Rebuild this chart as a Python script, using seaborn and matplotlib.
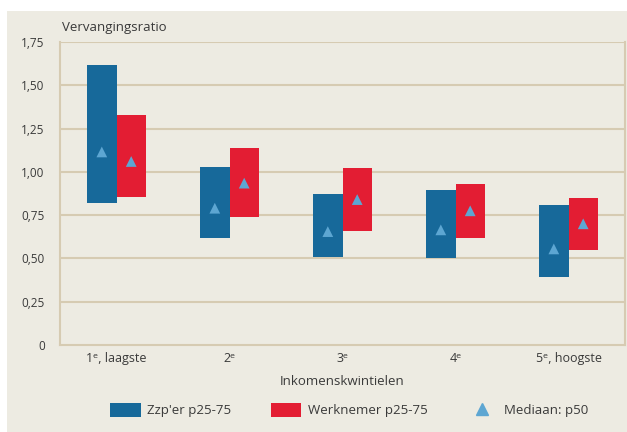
import matplotlib
matplotlib.use("Agg")
import matplotlib.pyplot as plt
import matplotlib.patches as mpatches
from matplotlib.lines import Line2D
import seaborn as sns
import pandas as pd
import numpy as np

categories = ["1ᵉ, laagste", "2ᵉ", "3ᵉ", "4ᵉ", "5ᵉ, hoogste"]
series = ["Zzp'er p25-75", "Werknemer p25-75"]
zzp_p25 = [0.82, 0.62, 0.51, 0.50, 0.39]
zzp_p75 = [1.62, 1.03, 0.87, 0.895, 0.81]
zzp_p50 = [1.115, 0.79, 0.655, 0.665, 0.555]
wn_p25 = [0.855, 0.74, 0.66, 0.62, 0.55]
wn_p75 = [1.33, 1.14, 1.02, 0.93, 0.85]
wn_p50 = [1.06, 0.935, 0.84, 0.775, 0.70]
yticks = [0, 0.25, 0.5, 0.75, 1.0, 1.25, 1.5, 1.75]
ytick_labels = ["0", "0,25", "0,50", "0,75", "1,00", "1,25", "1,50", "1,75"]

BLUE = "#17699A"
RED = "#E31D33"
TRI = "#5DA6D2"
BG = "#EDEBE2"
GRID = "#D6CBB2"
TXT = "#3A3A3A"

df = pd.DataFrame({
    "cat": categories * 2,
    "series": [series[0]] * 5 + [series[1]] * 5,
    "p25": zzp_p25 + wn_p25,
    "p75": zzp_p75 + wn_p75,
    "p50": zzp_p50 + wn_p50,
})
df["span"] = df["p75"] - df["p25"]

sns.set_style("white")
plt.rcParams["font.family"] = ["Open Sans", "DejaVu Sans"]

fig = plt.figure(figsize=(6.27, 4.32), dpi=100, facecolor="white")
fig.patches.append(mpatches.Rectangle((7 / 627, 0), 1, 1 - 11 / 432,
                                      transform=fig.transFigure,
                                      facecolor=BG, edgecolor="none", zorder=-10))
ax = fig.add_axes([60 / 627, 1 - 345 / 432, (625 - 60) / 627, (345 - 42) / 432])
ax.set_facecolor(BG)

sns.barplot(data=df, x="cat", y="span", hue="series", order=categories,
            hue_order=series, palette=[BLUE, RED], width=0.52, gap=0,
            errorbar=None, saturation=1, ax=ax, legend=False, zorder=3,
            linewidth=0)

# shift bars so that they span p25..p75
for cont, s in zip(ax.containers, series):
    sub = df[df["series"] == s].set_index("cat").loc[categories]
    for patch, (lo, hi) in zip(cont.patches, zip(sub["p25"], sub["p75"])):
        patch.set_y(lo)
        patch.set_height(hi - lo)

# medians at bar centres
for cont, s in zip(ax.containers, series):
    sub = df[df["series"] == s].set_index("cat").loc[categories]
    xs = [p.get_x() + p.get_width() / 2 for p in cont.patches]
    sns.scatterplot(x=xs, y=sub["p50"].values, marker="^", s=60, color=TRI,
                    edgecolor="none", ax=ax, zorder=4, legend=False)

ax.set_xlim(-0.5, len(categories) - 0.5)
ax.set_ylim(0, 1.75)
ax.set_yticks(yticks)
ax.set_yticklabels(ytick_labels)
for y in yticks[1:]:
    ax.axhline(y, color=GRID, lw=1.5, zorder=1)

ax.set_xticks(range(len(categories)))
ax.set_xticklabels(categories)
ax.set_xticks(np.arange(-0.5, len(categories), 1), minor=True)
ax.tick_params(axis="x", which="major", length=0, pad=5, labelsize=9, labelcolor=TXT)
ax.tick_params(axis="x", which="minor", length=5, width=1.3, color=GRID, direction="out")
ax.tick_params(axis="y", length=5, width=1.3, color=GRID, pad=6, labelsize=8.5, labelcolor=TXT)

for side in ["left", "bottom", "right"]:
    ax.spines[side].set_visible(True)
    ax.spines[side].set_color(GRID)
    ax.spines[side].set_linewidth(1.5)
ax.spines["top"].set_visible(False)

ax.set_xlabel("Inkomenskwintielen", fontsize=9.5, color=TXT, labelpad=7)
ax.set_ylabel("")
fig.text(62 / 627, 1 - 27 / 432, "Vervangingsratio", fontsize=9.5, color=TXT,
         ha="left", va="center")

handles = [
    mpatches.Patch(facecolor=BLUE, edgecolor="none", label=series[0]),
    mpatches.Patch(facecolor=RED, edgecolor="none", label=series[1]),
    Line2D([], [], marker="^", color=TRI, linestyle="none", markersize=8,
           label="Mediaan: p50"),
]
fig.legend(handles=handles, loc="center", bbox_to_anchor=(0.557, 1 - 410 / 432),
           ncol=3, frameon=False, fontsize=9.5, handlelength=2.3, handleheight=1.3,
           columnspacing=3.0, handletextpad=0.5, labelcolor=TXT)

fig.savefig("out.png", dpi=100, facecolor="white")
